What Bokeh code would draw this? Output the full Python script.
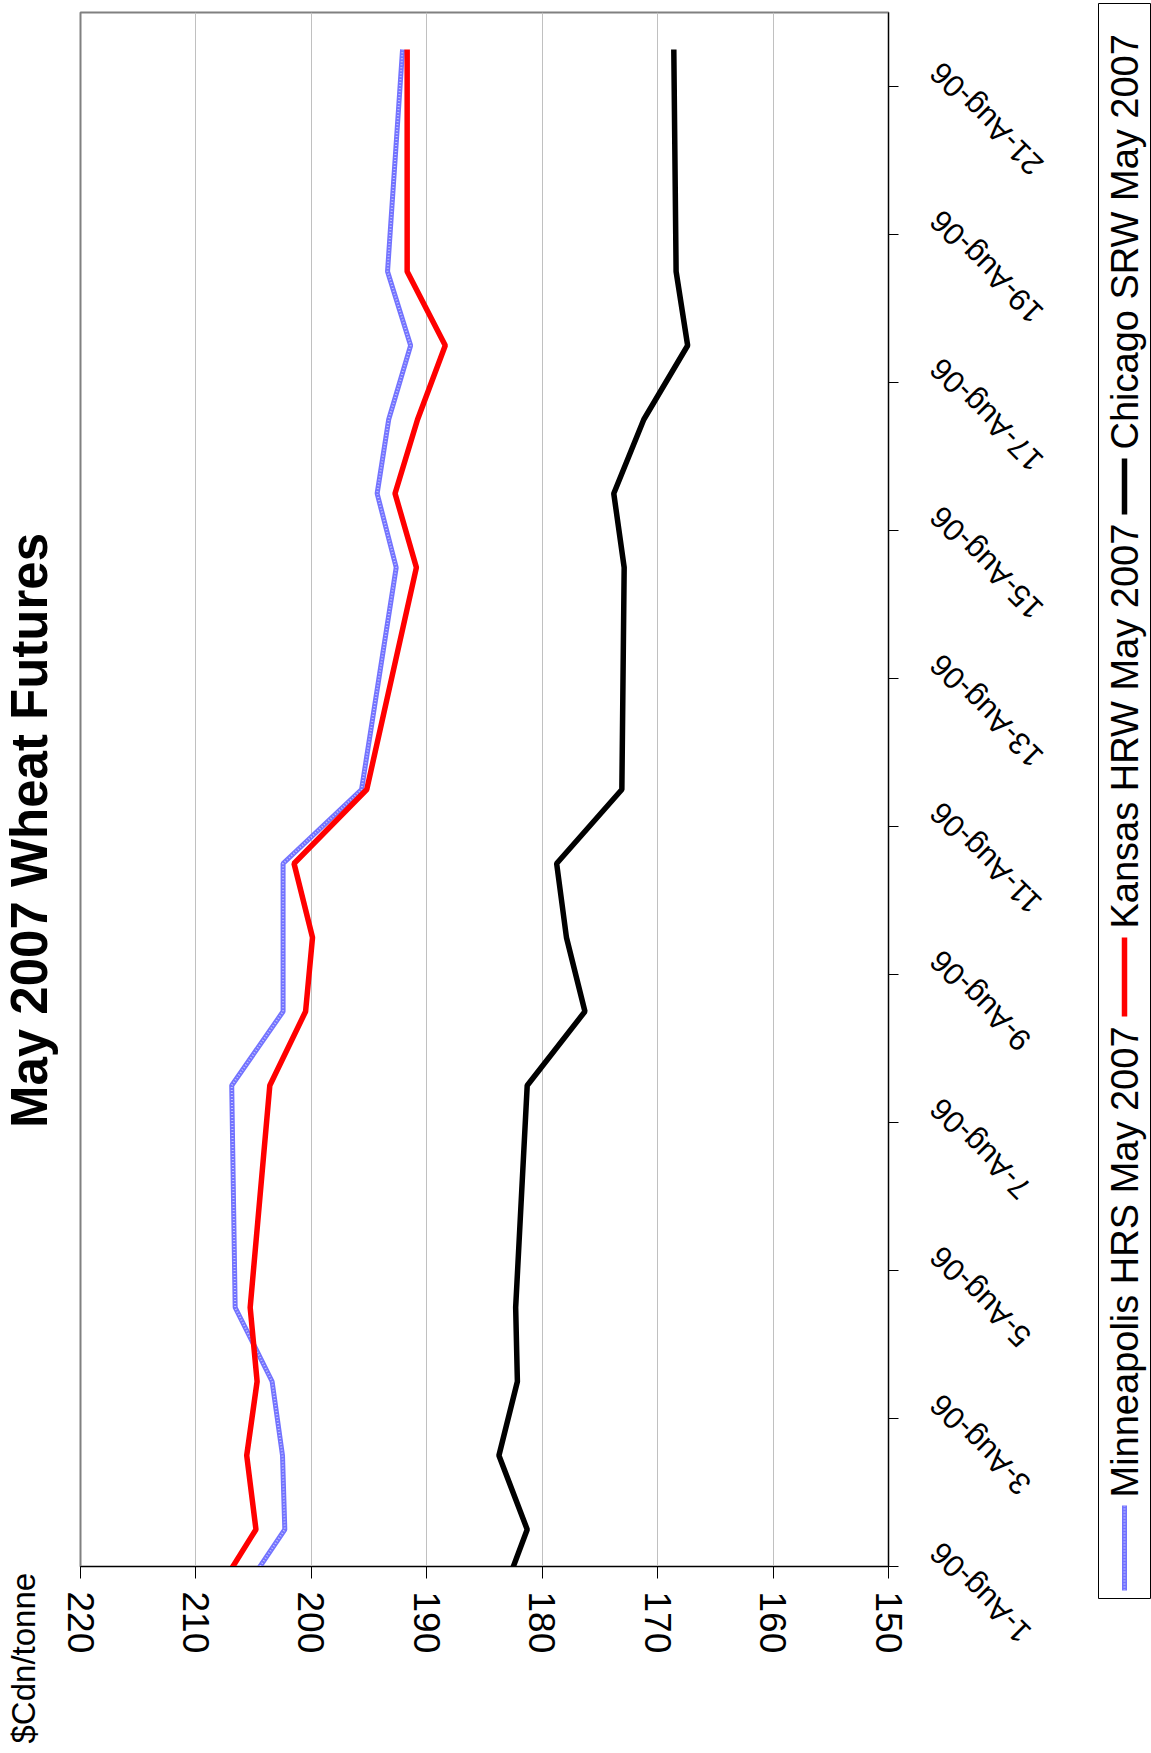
from math import pi
import pandas as pd
from bokeh.plotting import figure
from bokeh.models import (Range1d, LinearAxis, FixedTicker, Grid, CustomJSTickFormatter)
from bokeh.layouts import row
from bokeh.embed import file_html
from bokeh.resources import INLINE
from bokeh.core.properties import value

# ---------------- data ----------------
dates = ["2006-07-31", "2006-08-01", "2006-08-02", "2006-08-03", "2006-08-04",
         "2006-08-07", "2006-08-08", "2006-08-09", "2006-08-10", "2006-08-11",
         "2006-08-14", "2006-08-15", "2006-08-16", "2006-08-17", "2006-08-18",
         "2006-08-21"]
minneapolis = [206.6, 202.3, 202.5, 203.4, 206.6, 206.9, 202.45, 202.45, 202.45,
               195.65, 192.65, 194.3, 193.3, 191.4, 193.4, 192.1]
kansas = [208.8, 204.8, 205.6, 204.7, 205.3, 203.6, 200.5, 199.9, 201.5,
          195.2, 190.9, 192.75, 190.8, 188.4, 191.7, 191.7]
chicago = [183.7, 181.3, 183.75, 182.15, 182.3, 181.3, 176.3, 177.9, 178.75,
           173.1, 172.9, 173.8, 171.2, 167.4, 168.4, 168.6]
series_names = ["Minneapolis HRS May 2007", "Kansas HRW May 2007", "Chicago SRW May 2007"]
price_ticks = [150, 160, 170, 180, 190, 200, 210, 220]
date_tick_days = ["2006-08-01", "2006-08-03", "2006-08-05", "2006-08-07", "2006-08-09",
                  "2006-08-11", "2006-08-13", "2006-08-15", "2006-08-17", "2006-08-19",
                  "2006-08-21"]
date_tick_labels = ["1-Aug-06", "3-Aug-06", "5-Aug-06", "7-Aug-06", "9-Aug-06",
                    "11-Aug-06", "13-Aug-06", "15-Aug-06", "17-Aug-06", "19-Aug-06",
                    "21-Aug-06"]
title_text = "May 2007 Wheat Futures"
unit_text = "$Cdn/tonne"

FONT = "Liberation Sans"
DAY = 86400000.0


def ms(s):
    return pd.Timestamp(s).value / 1e6


# ---------------- page geometry ----------------
H = 1753
FL, FR, FT, FB = 80, 888, 12, 1566          # plot frame (page px)
M_LB, M_RB = 22, 22                          # main figure side borders
LEFT_W = FL - M_LB                           # strip with title + unit
M_W = M_LB + (FR - FL) + M_RB
LEG_L = 1097                                 # legend box left edge
D_X0 = LEFT_W + M_W
D_W = LEG_L - D_X0                           # date-label strip
G_W = 1151 - LEG_L
P0, P1 = 220, 150
D0, D1 = ms("2006-08-01"), ms("2006-08-22")
MS_PER_PX = (D1 - D0) / (FB - FT)

ys = [ms(d) + DAY / 2 for d in dates]       # points centred in their day


def strip(width, xr, yr, **kw):
    opts = dict(width=width, height=H, x_range=xr, y_range=yr, x_axis_type=None,
                y_axis_type=None, output_backend="svg", toolbar_location=None,
                min_border_left=0, min_border_right=0, min_border_top=0,
                min_border_bottom=0, outline_line_color=None, frame_align=False,
                background_fill_color="white", border_fill_color="white")
    opts.update(kw)
    return figure(**opts)


# ---------------- left strip: title and unit ----------------
left = strip(LEFT_W, Range1d(0, LEFT_W), Range1d(H, 0))
left.text(x=[29], y=[830], text=[title_text], angle=pi / 2, text_align="center",
          text_baseline="middle", text_font=value(FONT), text_font_size=value("51px"),
          text_font_style="bold", text_color="black")
left.text(x=[23], y=[1743], text=[unit_text], angle=pi / 2, text_align="left",
          text_baseline="middle", text_font=value(FONT), text_font_size=value("33px"),
          text_color="black")

# ---------------- main plot ----------------
p = figure(width=M_W, height=H, x_range=Range1d(P0, P1), y_range=Range1d(D0, D1),
           x_axis_type=None, y_axis_type=None, output_backend="svg",
           toolbar_location=None, min_border_left=M_LB, min_border_right=M_RB,
           min_border_top=FT, min_border_bottom=H - FB, frame_align=False,
           outline_line_color="#808080", outline_line_width=2,
           background_fill_color="white", border_fill_color="white")

xaxis = LinearAxis(ticker=FixedTicker(ticks=price_ticks),
                   major_label_orientation="vertical",
                   major_label_text_font=FONT, major_label_text_font_size="37px",
                   major_label_text_color="black", major_label_standoff=13,
                   major_tick_out=12, major_tick_in=0, major_tick_line_color="black",
                   minor_tick_line_color=None, axis_line_color="black", axis_line_width=1)
p.add_layout(xaxis, "below")
p.add_layout(Grid(dimension=0, ticker=xaxis.ticker, grid_line_color="#c0c0c0",
                  grid_line_width=1))

yaxis = LinearAxis(ticker=FixedTicker(ticks=[ms(d) for d in date_tick_days]),
                   formatter=CustomJSTickFormatter(code="return ''"),
                   major_tick_out=10, major_tick_in=0, major_tick_line_color="black",
                   minor_tick_line_color=None, axis_line_color="black", axis_line_width=1,
                   major_label_standoff=0)
p.add_layout(yaxis, "right")

BLUE, BLUE_HI = "#7373ff", "#c2c2ff"
p.line(x=minneapolis, y=ys, line_color=BLUE, line_width=5)
p.line(x=minneapolis, y=ys, line_color=BLUE_HI, line_width=2, line_dash="1 2")
p.line(x=kansas, y=ys, line_color="#ff0000", line_width=5.5)
p.line(x=chicago, y=ys, line_color="#000000", line_width=5.5)

# ---------------- date-label strip (same date scale as the plot) ----------------
dates_strip = strip(D_W, Range1d(D_X0, LEG_L),
                    Range1d(D0 - (H - FB) * MS_PER_PX, D1 + FT * MS_PER_PX))
dates_strip.text(x=FR + 47, y=[ms(d) + 19 * MS_PER_PX for d in date_tick_days],
                 text=date_tick_labels, angle=3 * pi / 4, text_align="right",
                 text_baseline="middle", text_font=value(FONT),
                 text_font_size=value("31px"), text_color="black")

# ---------------- legend (y in page pixels) ----------------
lg = figure(width=G_W, height=H, x_range=Range1d(LEG_L + 1, 1150), y_range=Range1d(1598, 3),
            x_axis_type=None, y_axis_type=None, output_backend="svg",
            toolbar_location=None, min_border_left=1, min_border_right=1,
            min_border_top=3, min_border_bottom=H - 1598, frame_align=False,
            outline_line_color="black", outline_line_width=1,
            background_fill_color="white", border_fill_color="white")
sw_from = [1590, 1016, 514]
sw_to = [1505, 937, 458]
txt_from = [1497, 928, 449]
lg.line(x=[1124, 1124], y=[sw_from[0], sw_to[0]], line_color=BLUE, line_width=5)
lg.line(x=[1124, 1124], y=[sw_from[0], sw_to[0]], line_color=BLUE_HI, line_width=2,
        line_dash="1 2")
lg.line(x=[1124, 1124], y=[sw_from[1], sw_to[1]], line_color="#ff0000", line_width=5.5)
lg.line(x=[1124, 1124], y=[sw_from[2], sw_to[2]], line_color="#000000", line_width=5.5)
for name, t in zip(series_names, txt_from):
    lg.text(x=[1124], y=[t], text=[name], angle=pi / 2, text_align="left",
            text_baseline="middle", text_font=value(FONT), text_font_size=value("38px"),
            text_color="black")

layout = row(left, p, dates_strip, lg)
open("out.html", "w").write(file_html(layout, INLINE))
